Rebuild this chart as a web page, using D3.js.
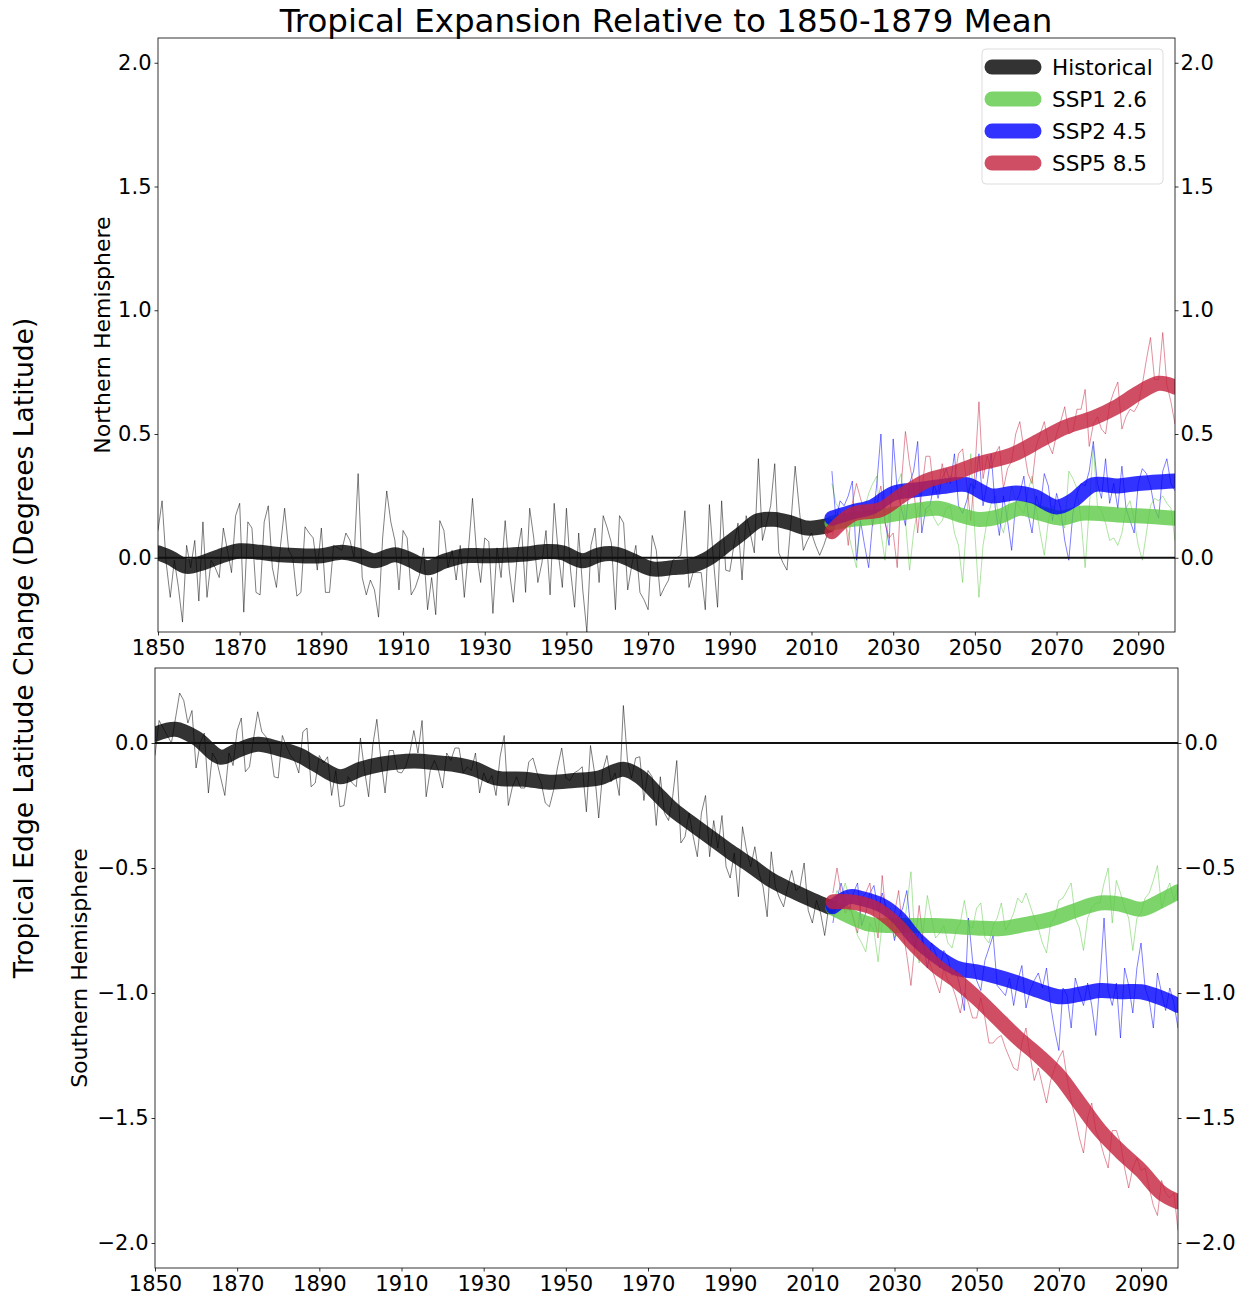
<!DOCTYPE html>
<html>
<head>
<meta charset="utf-8">
<script src="https://cdn.jsdelivr.net/npm/d3@7"></script>
<style>
    body { margin: 0; background: #fff; }
    text { font-family: "DejaVu Sans", sans-serif; fill: #000; }
</style>
</head>
<body>
<div id="chart"></div>
<script>
"use strict";

// Years and tick labels
var histStart = 1850
var projStart = 2015
var xTicks = [1850, 1870, 1890, 1910, 1930, 1950, 1970, 1990, 2010, 2030, 2050, 2070, 2090]
var nhTicks = [0, 0.5, 1, 1.5, 2]
var shTicks = [0, -0.5, -1, -1.5, -2]
var scenarios = ['Historical', 'SSP1 2.6', 'SSP2 4.5', 'SSP5 8.5']
var colors = ['#000000', '#5dc946', '#0000ff', '#c4223d']

// Northern Hemisphere, annual values (1850-2014, then 2015-2099)
var nhHist = [
    0.11, 0.23, -0.02, -0.16, -0.01, -0.12, -0.26, 0.05, -0.04, 0.07,
    -0.175, 0.145, -0.16, -0.01, -0.04, -0.08, 0.12, 0.03, -0.06, 0.17,
    0.22, -0.22, 0.145, 0.12, -0.14, -0.15, 0.145, 0.21, -0.04, -0.12,
    0.05, 0.2, 0.03, 0.0, -0.155, -0.14, 0.125, 0.1, 0.08, -0.05,
    0.12, -0.14, -0.14, 0.05, 0.04, 0.03, 0.1, 0.07, 0.0, 0.34,
    -0.08, -0.15, -0.09, -0.13, -0.24, 0.08, 0.27, 0.145, 0.07, -0.13,
    0.11, 0.08, -0.15, -0.12, -0.07, 0.04, -0.21, -0.08, -0.23, 0.15,
    0.11, -0.04, 0.03, -0.09, 0.05, -0.16, 0.03, 0.24, 0.02, -0.1,
    0.08, 0.065, -0.225, 0.04, -0.08, 0.15, -0.05, -0.18, 0.02, 0.12,
    -0.14, 0.2, 0.08, -0.1, -0.02, 0.11, -0.15, 0.22, 0.02, -0.12,
    0.2, -0.05, -0.2, 0.1, -0.13, -0.3, 0.05, 0.12, -0.1, 0.17,
    0.12, 0.06, -0.21, 0.17, 0.14, -0.13, -0.03, 0.05, -0.14, -0.17,
    -0.21, 0.09, 0.03, -0.155, -0.12, -0.09, -0.01, 0.0, 0.01, 0.19,
    -0.12, -0.06, -0.06, -0.06, -0.21, 0.215, -0.01, -0.2, 0.23, -0.05,
    -0.055, 0.05, 0.14, -0.09, 0.17, 0.1, 0.02, 0.4, 0.07, 0.14,
    0.21, 0.38, 0.02, -0.02, -0.05, 0.15, 0.37, 0.2, 0.03, 0.07,
    0.1, 0.05, 0.01, 0.05, 0.1
]
var nhSsp1 = [
    0.3, 0.22, 0.19, 0.15, 0.1, 0.03, -0.04, 0.15, 0.2, 0.26,
    0.3, 0.33, 0.1, -0.01, 0.2, 0.25, 0.3, 0.34, 0.15, -0.05,
    0.1, 0.2, 0.22, 0.18, 0.2, 0.16, 0.13, 0.15, 0.2, 0.21,
    0.1, 0.05, -0.1, 0.15, 0.42, 0.1, -0.16, 0.05, 0.15, 0.22,
    0.25, 0.15, 0.1, 0.18, 0.29, 0.23, 0.2, 0.18, 0.27, 0.33,
    0.2, 0.1, 0.01, 0.15, 0.21, 0.18, 0.15, 0.12, 0.35, 0.32,
    0.28, 0.15, -0.04, 0.2, 0.45, 0.21, 0.19, 0.14, 0.07, 0.08,
    0.05, 0.1, 0.2, 0.23, 0.15, 0.05, -0.01, 0.1, 0.21, 0.24,
    0.23, 0.25, 0.22, 0.2, 0.07
]
var nhSsp2 = [
    0.35, 0.15, 0.23, 0.21, 0.25, 0.31, -0.01, 0.15, 0.05, -0.04,
    0.15, 0.3, 0.5, 0.15, 0.05, 0.48, 0.27, 0.2, 0.13, 0.3,
    0.35, 0.47, 0.1, 0.2, 0.21, 0.3, 0.24, 0.32, 0.36, 0.3,
    0.42, 0.21, 0.18, 0.23, 0.3, 0.28, 0.42, 0.21, 0.3, 0.42,
    0.2, 0.09, 0.25, 0.15, 0.03, 0.22, 0.26, 0.33, 0.18, 0.1,
    0.25, 0.2, 0.34, 0.29, 0.15, 0.26, 0.2, 0.07, -0.01, 0.18,
    0.26, 0.3, 0.29, 0.35, 0.47, 0.3, 0.24, 0.4, 0.22, 0.3,
    0.2, 0.37, 0.2, 0.15, 0.1, 0.3, 0.36, 0.34, 0.29, 0.2,
    0.16, 0.35, 0.4, 0.3, 0.27
]
var nhSsp5 = [
    0.09, 0.14, 0.12, 0.19, 0.05, 0.22, 0.3, 0.24, 0.18, 0.2,
    0.13, 0.22, 0.29, 0.14, 0.08, 0.1, -0.04, 0.3, 0.51, 0.38,
    0.29, 0.1, 0.27, 0.41, 0.41, 0.26, 0.27, 0.38, 0.3, 0.33,
    0.32, 0.42, 0.44, 0.3, 0.15, 0.35, 0.63, 0.32, 0.41, 0.36,
    0.42, 0.45, 0.28, 0.36, 0.39, 0.5, 0.55, 0.44, 0.34, 0.3,
    0.45, 0.5, 0.55, 0.46, 0.42, 0.5, 0.55, 0.61, 0.5, 0.51,
    0.6, 0.6, 0.68, 0.45, 0.54, 0.57, 0.52, 0.5, 0.62, 0.67,
    0.71, 0.52, 0.57, 0.6, 0.59, 0.62, 0.7, 0.8, 0.89, 0.72,
    0.72, 0.91, 0.7, 0.63, 0.54
]

// Northern Hemisphere, smoothed values [year, value]
var nhHistSmooth = [
    [1850, 0.02], [1853, 0.0], [1857, -0.035], [1861, -0.02], [1865, 0.005], [1870, 0.028],
    [1875, 0.022], [1880, 0.012], [1885, 0.008], [1890, 0.008], [1895, 0.022], [1899, 0.01],
    [1903, -0.012], [1908, 0.012], [1912, -0.01], [1916, -0.04], [1920, -0.015], [1925, 0.008],
    [1930, 0.008], [1935, 0.01], [1940, 0.015], [1945, 0.025], [1949, 0.02], [1954, -0.012],
    [1958, 0.012], [1962, 0.015], [1966, -0.01], [1971, -0.045], [1976, -0.04], [1981, -0.03],
    [1985, 0.0], [1989, 0.05], [1993, 0.1], [1997, 0.15], [2001, 0.155], [2005, 0.14],
    [2009, 0.12], [2014, 0.13]
]
var nhSsp1Smooth = [
    [2015, 0.14], [2020, 0.155], [2027, 0.167], [2034, 0.187], [2041, 0.2], [2046, 0.175],
    [2051, 0.155], [2056, 0.167], [2061, 0.2], [2066, 0.18], [2071, 0.16], [2076, 0.18],
    [2085, 0.173], [2093, 0.167], [2099, 0.16]
]
var nhSsp2Smooth = [
    [2015, 0.16], [2020, 0.185], [2025, 0.207], [2030, 0.26], [2036, 0.275], [2042, 0.288],
    [2048, 0.295], [2054, 0.25], [2060, 0.262], [2064.5, 0.248], [2070, 0.205], [2074, 0.232],
    [2079, 0.295], [2085, 0.29], [2090, 0.3], [2099, 0.31]
]
var nhSsp5Smooth = [
    [2015, 0.105], [2020, 0.175], [2027, 0.195], [2032, 0.25], [2038, 0.31], [2045, 0.343],
    [2051, 0.38], [2059, 0.415], [2066, 0.475], [2072, 0.527], [2079, 0.565], [2085, 0.612],
    [2090, 0.665], [2095, 0.705], [2099, 0.69]
]

// Southern Hemisphere, annual values
var shHist = [
    -0.05, 0.09, 0.06, 0.03, 0.0, 0.1, 0.2, 0.17, 0.08, 0.13,
    -0.1, 0.0, 0.04, -0.2, -0.04, -0.07, -0.14, -0.21, -0.04, -0.09,
    0.05, 0.1, -0.115, -0.095, 0.02, 0.125, 0.045, 0.025, -0.015, -0.135,
    -0.14, 0.03, -0.015, -0.05, -0.07, -0.12, 0.045, 0.06, -0.175, -0.16,
    -0.05, -0.08, -0.055, -0.21, -0.11, -0.255, -0.25, -0.135, -0.16, -0.175,
    0.02, -0.11, -0.215, -0.01, 0.095, -0.07, -0.2, -0.03, -0.03, -0.115,
    -0.12, -0.095, -0.04, 0.05, -0.04, 0.09, -0.215, -0.11, -0.07, -0.11,
    -0.18, -0.04, -0.07, -0.02, -0.02, -0.12, -0.095, -0.11, -0.04, -0.2,
    -0.12, -0.16, -0.13, -0.21, -0.055, 0.03, -0.25, -0.175, -0.135, -0.18,
    -0.18, -0.075, -0.06, -0.12, -0.16, -0.24, -0.255, -0.19, -0.095, -0.02,
    -0.14, -0.15, -0.12, -0.11, -0.095, -0.275, -0.01, -0.12, -0.3, -0.11,
    -0.05, -0.155, -0.12, -0.21, 0.15, -0.07, -0.14, -0.06, -0.055, -0.23,
    -0.11, -0.135, -0.33, -0.135, -0.28, -0.31, -0.215, -0.07, -0.4, -0.375,
    -0.28, -0.375, -0.455, -0.28, -0.21, -0.455, -0.31, -0.42, -0.29, -0.495,
    -0.54, -0.44, -0.615, -0.335, -0.43, -0.495, -0.415, -0.52, -0.575, -0.695,
    -0.435, -0.575, -0.62, -0.655, -0.575, -0.51, -0.59, -0.575, -0.48, -0.67,
    -0.72, -0.63, -0.68, -0.77, -0.655
]
var shSsp1 = [
    -0.65, -0.59, -0.62, -0.56, -0.62, -0.71, -0.77, -0.8, -0.835, -0.72,
    -0.75, -0.875, -0.72, -0.68, -0.66, -0.78, -0.76, -0.77, -0.65, -0.515,
    -0.8, -0.88, -0.75, -0.61, -0.7, -0.78, -0.76, -0.73, -0.8, -0.82,
    -0.75, -0.72, -0.63, -0.73, -0.74, -0.66, -0.64, -0.78, -0.8, -0.73,
    -0.7, -0.64, -0.75, -0.72, -0.68, -0.62, -0.64, -0.6, -0.65, -0.7,
    -0.74, -0.8, -0.84, -0.72, -0.7, -0.63, -0.62, -0.59, -0.56, -0.7,
    -0.74, -0.83, -0.7, -0.66, -0.64, -0.64, -0.56, -0.5, -0.72, -0.55,
    -0.6, -0.66, -0.7, -0.83, -0.7, -0.68, -0.62, -0.6, -0.55, -0.49,
    -0.66, -0.6, -0.56, -0.63, -0.58
]
var shSsp2 = [
    -0.72, -0.62, -0.56, -0.63, -0.67, -0.6, -0.56, -0.73, -0.68, -0.6,
    -0.57, -0.67, -0.6, -0.66, -0.7, -0.79, -0.7, -0.66, -0.59, -0.75,
    -0.82, -0.75, -0.8, -0.9, -0.8, -0.84, -0.9, -0.83, -0.86, -0.93,
    -0.91, -0.98, -1.07, -0.7, -0.87, -0.95, -0.99, -0.87, -0.82, -0.77,
    -0.97, -0.99, -1.01, -0.94, -1.05, -0.95, -0.89, -1.06, -0.99, -0.95,
    -0.92, -0.98, -0.9, -1.05, -1.15, -1.23, -0.98, -1.01, -1.14, -0.94,
    -1.0, -1.05, -0.96, -1.05, -1.17, -0.95, -0.7, -0.99, -1.05, -0.96,
    -1.18, -0.9, -0.97, -1.08, -0.9, -0.8, -0.98, -1.03, -1.14, -0.92,
    -1.0, -1.07, -0.98, -1.04, -1.14
]
var shSsp5 = [
    -0.6, -0.5, -0.6, -0.68, -0.65, -0.7, -0.76, -0.62, -0.6, -0.56,
    -0.69, -0.78, -0.53, -0.7, -0.75, -0.68, -0.59, -0.75, -0.85, -0.97,
    -0.8, -0.65, -0.8, -0.85, -0.9, -0.95, -1.0, -0.9, -0.95, -0.97,
    -1.02, -1.08, -1.0, -1.04, -1.1, -1.1, -1.02, -1.1, -1.2, -1.2,
    -1.18, -1.17, -1.22, -1.26, -1.3, -1.31, -1.2, -1.14, -1.25, -1.35,
    -1.3, -1.37, -1.44, -1.35, -1.3, -1.26, -1.23, -1.34, -1.43, -1.5,
    -1.58, -1.64, -1.5, -1.44, -1.55, -1.59, -1.65, -1.7, -1.55, -1.55,
    -1.6, -1.7, -1.78, -1.7, -1.66, -1.71, -1.7, -1.78, -1.85, -1.89,
    -1.75, -1.8, -1.82, -1.8, -1.95
]

// Southern Hemisphere, smoothed values [year, value]
var shHistSmooth = [
    [1850, 0.035], [1855, 0.055], [1860, 0.02], [1866, -0.057], [1870, -0.03], [1875, -0.005],
    [1880, -0.022], [1885, -0.048], [1889, -0.085], [1895, -0.135], [1900, -0.105], [1905, -0.085],
    [1913, -0.072], [1918, -0.078], [1923, -0.086], [1928, -0.105], [1933, -0.14], [1940, -0.145],
    [1946, -0.157], [1952, -0.15], [1958, -0.14], [1964, -0.105], [1968, -0.135], [1972, -0.2],
    [1976, -0.265], [1980, -0.315], [1985, -0.375], [1990, -0.435], [1995, -0.49], [2000, -0.548],
    [2005, -0.59], [2010, -0.628], [2014, -0.655]
]
var shSsp1Smooth = [
    [2015, -0.66], [2020, -0.7], [2024, -0.725], [2030, -0.73], [2040, -0.73], [2050, -0.74],
    [2056, -0.742], [2062, -0.725], [2068, -0.705], [2074, -0.67], [2080, -0.64], [2085, -0.645],
    [2090, -0.665], [2095, -0.63], [2099, -0.595]
]
var shSsp2Smooth = [
    [2015, -0.655], [2019, -0.615], [2022, -0.622], [2027, -0.65], [2031, -0.7], [2035, -0.78],
    [2040, -0.85], [2045, -0.9], [2050, -0.915], [2055, -0.935], [2060, -0.96], [2065, -0.99],
    [2070, -1.015], [2075, -1.005], [2080, -0.99], [2085, -0.995], [2090, -0.995], [2095, -1.02],
    [2099, -1.05]
]
var shSsp5Smooth = [
    [2015, -0.635], [2020, -0.637], [2025, -0.66], [2030, -0.72], [2035, -0.81], [2040, -0.89],
    [2045, -0.95], [2050, -1.02], [2055, -1.1], [2060, -1.18], [2065, -1.25], [2070, -1.33],
    [2075, -1.44], [2080, -1.55], [2085, -1.635], [2090, -1.71], [2095, -1.8], [2099, -1.835]
]

var width = 1247
var height = 1297
var fontSize = 21

var svg = d3.select('#chart').append('svg')
    .attr('width', width)
    .attr('height', height)

var panels = [
    {
        id: 'nh', name: 'Northern Hemisphere',
        left: 158, right: 1175, top: 38, bottom: 632,
        yDomain: [-0.3, 2.1], ticks: nhTicks, labelX: 110, rightPad: 2,
        annual: [nhHist, nhSsp1, nhSsp2, nhSsp5],
        smooth: [nhHistSmooth, nhSsp1Smooth, nhSsp2Smooth, nhSsp5Smooth],
        legend: true
    },
    {
        id: 'sh', name: 'Southern Hemisphere',
        left: 155, right: 1178, top: 668, bottom: 1268,
        yDomain: [-2.1, 0.3], ticks: shTicks, labelX: 87, rightPad: 3,
        annual: [shHist, shSsp1, shSsp2, shSsp5],
        smooth: [shHistSmooth, shSsp1Smooth, shSsp2Smooth, shSsp5Smooth],
        legend: false
    }
]

panels.forEach(function (p) { drawPanel(p) })

// Title
svg.append('text')
    .text('Tropical Expansion Relative to 1850-1879 Mean')
    .attr('x', 666)
    .attr('y', 32)
    .attr('text-anchor', 'middle')
    .attr('font-size', 32.5)

// Shared y label
svg.append('text')
    .text('Tropical Edge Latitude Change (Degrees Latitude)')
    .attr('transform', 'translate(33,648) rotate(-90)')
    .attr('text-anchor', 'middle')
    .attr('font-size', 26.5)

function drawPanel(p) {
    var x = d3.scaleLinear().domain([1850, 2099]).range([p.left, p.right])
    var y = d3.scaleLinear().domain(p.yDomain).range([p.bottom, p.top])

    var g = svg.append('g').attr('id', p.id)

    g.append('clipPath').attr('id', 'clip-' + p.id)
        .append('rect')
        .attr('x', p.left).attr('y', p.top)
        .attr('width', p.right - p.left).attr('height', p.bottom - p.top)

    var plot = g.append('g').attr('clip-path', 'url(#clip-' + p.id + ')')

    // thin annual lines
    p.annual.forEach(function (series, k) {
        var start = k === 0 ? histStart : projStart
        var line = d3.line()
            .x((d, i) => x(start + i))
            .y(d => y(d))
        plot.append('path')
            .datum(series)
            .attr('d', line)
            .attr('fill', 'none')
            .attr('stroke', colors[k])
            .attr('stroke-opacity', 0.5)
            .attr('stroke-width', 1)
    })

    // thick smoothed lines
    var smoothLine = d3.line()
        .x(d => x(d[0]))
        .y(d => y(d[1]))
        .curve(d3.curveCatmullRom.alpha(0.5))

    p.smooth.forEach(function (series, k) {
        plot.append('path')
            .datum(series)
            .attr('d', smoothLine)
            .attr('fill', 'none')
            .attr('stroke', colors[k])
            .attr('stroke-opacity', 0.8)
            .attr('stroke-width', 15)
            .attr('stroke-linecap', 'round')
            .attr('stroke-linejoin', 'round')
    })

    // zero line
    plot.append('line')
        .attr('x1', p.left).attr('x2', p.right)
        .attr('y1', y(0)).attr('y2', y(0))
        .attr('stroke', '#111')
        .attr('stroke-width', 2)

    // axes
    var fmt = d3.format('.1f')
    var left = g.append('g')
        .attr('transform', 'translate(' + p.left + ',0)')
        .call(d3.axisLeft(y).tickValues(p.ticks).tickFormat(fmt).tickSize(3.5).tickPadding(3))
    var right = g.append('g')
        .attr('transform', 'translate(' + p.right + ',0)')
        .call(d3.axisRight(y).tickValues(p.ticks).tickFormat(fmt).tickSize(3.5).tickPadding(p.rightPad))
    var bottom = g.append('g')
        .attr('transform', 'translate(0,' + p.bottom + ')')
        .call(d3.axisBottom(x).tickValues(xTicks).tickFormat(d3.format('d')).tickSize(3.5).tickPadding(5))

    ;[left, right, bottom].forEach(function (a) {
        a.attr('font-size', fontSize).attr('font-family', null)
        a.select('.domain').remove()
        a.selectAll('.tick line').attr('stroke', '#000').attr('stroke-width', 0.8)
    })

    // frame
    g.append('rect')
        .attr('x', p.left).attr('y', p.top)
        .attr('width', p.right - p.left).attr('height', p.bottom - p.top)
        .attr('fill', 'none')
        .attr('stroke', '#000')
        .attr('stroke-width', 0.8)

    // hemisphere label
    g.append('text')
        .text(p.name)
        .attr('transform', 'translate(' + p.labelX + ',' + (p.top + p.bottom) / 2 + ') rotate(-90)')
        .attr('text-anchor', 'middle')
        .attr('font-size', 22)

    if (p.legend) drawLegend(g)
}

function drawLegend(g) {
    var lx = 982, ly = 49
    var legend = g.append('g').attr('transform', 'translate(' + lx + ',' + ly + ')')

    legend.append('rect')
        .attr('width', 181)
        .attr('height', 135)
        .attr('rx', 4)
        .attr('fill', '#fff')
        .attr('fill-opacity', 0.8)
        .attr('stroke', '#ddd')
        .attr('stroke-width', 1)

    scenarios.forEach(function (name, k) {
        var rowY = 18 + k * 32
        legend.append('line')
            .attr('x1', 10).attr('x2', 52)
            .attr('y1', rowY).attr('y2', rowY)
            .attr('stroke', colors[k])
            .attr('stroke-opacity', 0.8)
            .attr('stroke-width', 15)
            .attr('stroke-linecap', 'round')
        legend.append('text')
            .text(name)
            .attr('x', 70)
            .attr('y', rowY + 8)
            .attr('font-size', 21.5)
    })
}
</script>
</body>
</html>
